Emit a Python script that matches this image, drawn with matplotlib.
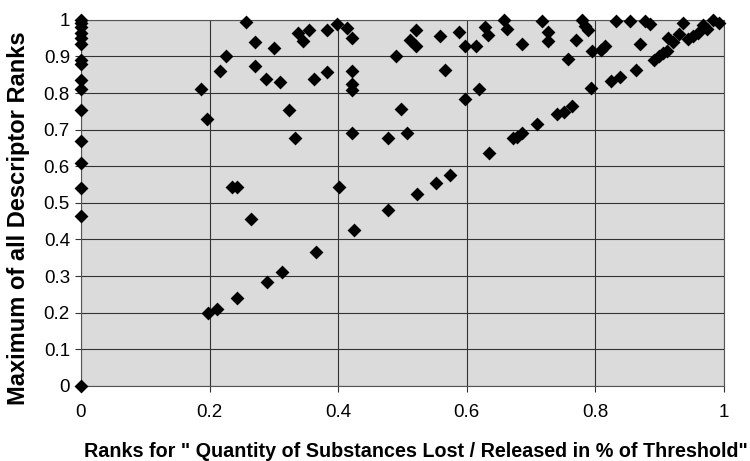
import numpy as np
import matplotlib.pyplot as plt

# Rangwerte: Menge (x) gegen Maximum aller Deskriptoren (y)
rank_quantity = [
    0, 0, 0, 0, 0, 0, 0, 0, 0, 0, 0, 0, 0, 0, 0, 0,
    0.186, 0.196, 0.197, 0.211, 0.216, 0.226, 0.235, 0.242, 0.242, 0.256,
    0.264, 0.271, 0.271, 0.288, 0.289, 0.301, 0.310, 0.312, 0.324, 0.333,
    0.337, 0.346, 0.355, 0.363, 0.365, 0.382, 0.382, 0.399, 0.402, 0.414,
    0.422, 0.422, 0.422, 0.422, 0.422, 0.424, 0.477, 0.477, 0.490, 0.498,
    0.507, 0.512, 0.521, 0.521, 0.522, 0.553, 0.559, 0.567, 0.574, 0.588,
    0.597, 0.597, 0.614, 0.619, 0.628, 0.633, 0.634, 0.658, 0.663, 0.672,
    0.678, 0.686, 0.686, 0.709, 0.717, 0.726, 0.726, 0.740, 0.751, 0.757,
    0.764, 0.770, 0.779, 0.784, 0.789, 0.794, 0.795, 0.809, 0.816, 0.824,
    0.833, 0.838, 0.854, 0.864, 0.869, 0.877, 0.885, 0.891, 0.899, 0.906,
    0.912, 0.913, 0.921, 0.930, 0.937, 0.944, 0.952, 0.960, 0.967, 0.974,
    0.984, 0.992,
]
rank_max = [
    1.0, 0.99, 0.98, 0.965, 0.95, 0.935, 0.89, 0.88, 0.835, 0.81, 0.755,
    0.67, 0.61, 0.54, 0.465, 0.0,
    0.812, 0.730, 0.198, 0.211, 0.861, 0.902, 0.542, 0.542, 0.241, 0.994,
    0.455, 0.939, 0.873, 0.838, 0.285, 0.922, 0.829, 0.311, 0.754, 0.676,
    0.965, 0.941, 0.971, 0.838, 0.365, 0.971, 0.858, 0.989, 0.543, 0.977,
    0.950, 0.861, 0.825, 0.809, 0.690, 0.425, 0.678, 0.480, 0.902, 0.756,
    0.690, 0.945, 0.973, 0.929, 0.523, 0.553, 0.957, 0.863, 0.577, 0.966,
    0.929, 0.783, 0.929, 0.812, 0.980, 0.959, 0.637, 1.0, 0.975, 0.677,
    0.681, 0.690, 0.934, 0.716, 0.998, 0.966, 0.941, 0.742, 0.749, 0.892,
    0.765, 0.945, 1.0, 0.984, 0.973, 0.813, 0.914, 0.918, 0.929, 0.832,
    0.996, 0.845, 0.996, 0.863, 0.934, 0.998, 0.989, 0.891, 0.900, 0.909,
    0.916, 0.950, 0.939, 0.962, 0.991, 0.947, 0.956, 0.963, 0.986, 0.975,
    1.0, 0.991,
]

x_ticks = [0, 0.2, 0.4, 0.6, 0.8, 1]
x_labels = ["0", "0.2", "0.4", "0.6", "0.8", "1"]
y_ticks = [0, 0.1, 0.2, 0.3, 0.4, 0.5, 0.6, 0.7, 0.8, 0.9, 1]
y_labels = ["0", "0.1", "0.2", "0.3", "0.4", "0.5", "0.6", "0.7", "0.8", "0.9", "1"]

plt.rcParams['font.family'] = ['Liberation Sans', 'DejaVu Sans']

fig = plt.figure(figsize=(7.5, 4.61), dpi=100)
ax = fig.add_axes([0.108, 0.163, 0.857, 0.794])
ax.set_facecolor('#dbdbdb')

ax.scatter(rank_quantity, rank_max, marker='D', s=50, color='black',
           zorder=3, clip_on=False, linewidths=0)

ax.set_xlim(0, 1)
ax.set_ylim(0, 1)
ax.set_xticks(x_ticks)
ax.set_xticklabels(x_labels)
ax.set_yticks(y_ticks)
ax.set_yticklabels(y_labels)
ax.tick_params(axis='both', labelsize=13.5, length=4, width=0.8,
               color='#333333', direction='out')
ax.tick_params(axis='x', pad=9)
ax.tick_params(axis='y', pad=4)

ax.grid(True, color='#333333', linewidth=0.8)
ax.set_axisbelow(True)
for side in ['left', 'bottom', 'right', 'top']:
    ax.spines[side].set_color('#555555')
    ax.spines[side].set_linewidth(0.8)

# Achsentitel direkt auf die Figur gesetzt
fig.text(416 / 750, 1 - 451 / 461,
         'Ranks for " Quantity of Substances Lost / Released in % of Threshold"',
         fontsize=14.2, fontweight='bold', ha='center', va='center')
fig.text(19 / 750, 1 - 218 / 461, 'Maximum of all Descriptor Ranks',
         fontsize=17, fontweight='bold', rotation=90,
         ha='center', va='center')

fig.savefig('out.png', dpi=100)
